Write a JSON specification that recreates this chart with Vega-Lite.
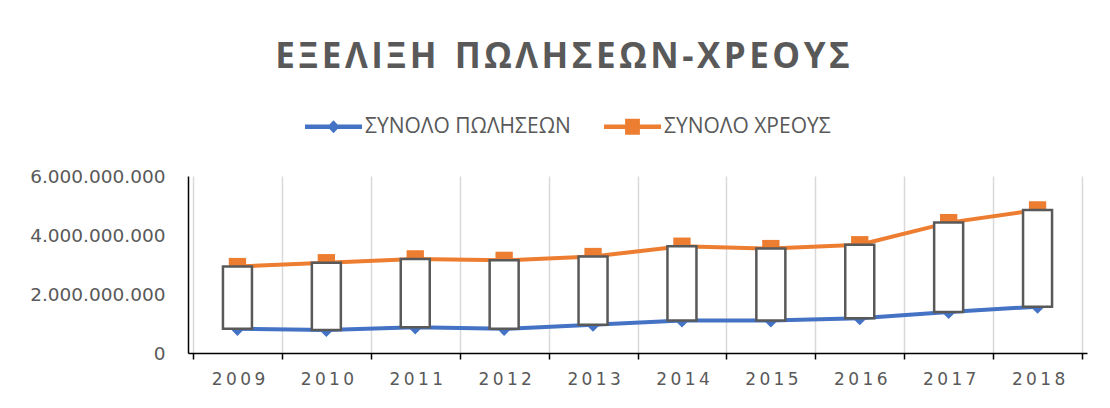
{
  "$schema": "https://vega.github.io/schema/vega-lite/v6.json",
  "width": 899,
  "height": 177,
  "autosize": {"type": "none"},
  "padding": {"left": 188, "top": 176, "right": 23, "bottom": 55},
  "background": "white",
  "config": {
    "locale": {"number": {"decimal": ",", "thousands": ".", "grouping": [3], "currency": ["", " €"]}},
    "view": {"stroke": null}
  },
  "title": {
    "text": "Ε\u200aΞ\u200aΕ\u200aΛ\u200aΙ\u200aΞ\u200aΗ\u00a0\u00a0Π\u200aΩ\u200aΛ\u200aΗ\u200aΣ\u200aΕ\u200aΩ\u200aΝ\u200a-\u200aΧ\u200aΡ\u200aΕ\u200aΟ\u200aΥ\u200aΣ",
    "font": "Open Sans",
    "fontSize": 35,
    "fontWeight": "bold",
    "color": "#595959",
    "anchor": "middle",
    "frame": "group",
    "dx": -75,
    "offset": 23
  },
  "data": {
    "values": [
      {"year": 2009, "sales": 820000000, "debt": 2930000000},
      {"year": 2010, "sales": 780000000, "debt": 3060000000},
      {"year": 2011, "sales": 870000000, "debt": 3190000000},
      {"year": 2012, "sales": 820000000, "debt": 3140000000},
      {"year": 2013, "sales": 960000000, "debt": 3270000000},
      {"year": 2014, "sales": 1100000000, "debt": 3620000000},
      {"year": 2015, "sales": 1100000000, "debt": 3540000000},
      {"year": 2016, "sales": 1180000000, "debt": 3670000000},
      {"year": 2017, "sales": 1390000000, "debt": 4420000000},
      {"year": 2018, "sales": 1570000000, "debt": 4850000000}
    ]
  },
  "layer": [
    {
      "mark": {"type": "line", "strokeWidth": 4, "color": "#4472C4"},
      "encoding": {
        "x": {
          "field": "year", "type": "quantitative",
          "scale": {"domain": [2008.5, 2018.5], "nice": false, "zero": false},
          "axis": {
            "title": null,
            "values": [2008.5, 2009.5, 2010.5, 2011.5, 2012.5, 2013.5, 2014.5, 2015.5, 2016.5, 2017.5, 2018.5],
            "labelExpr": "datum.value > 2018 ? '' : join(split(toString(datum.value + 0.5), ''), '\u2009')",
            "labelOffset": 45,
            "labelFlush": false,
            "labelOverlap": false,
            "labelFont": "DejaVu Sans",
            "labelFontSize": 17,
            "labelColor": "#595959",
            "labelPadding": 12,
            "domainColor": "#000000",
            "domainWidth": 1.5,
            "tickColor": "#000000",
            "tickWidth": 1.5,
            "tickSize": 6,
            "grid": true,
            "gridColor": "#d9d9d9",
            "gridWidth": 1.5
          }
        },
        "y": {
          "field": "sales", "type": "quantitative",
          "scale": {"domain": [0, 6000000000], "nice": false},
          "axis": {
            "title": null,
            "values": [0, 2000000000, 4000000000, 6000000000],
            "format": ",.0f",
            "labelFont": "DejaVu Sans",
            "labelFontSize": 18.5,
            "labelColor": "#595959",
            "labelPadding": 23,
            "ticks": false,
            "grid": false,
            "domainColor": "#000000",
            "domainWidth": 1.5
          }
        }
      }
    },
    {
      "mark": {"type": "line", "strokeWidth": 4, "color": "#ED7D31"},
      "encoding": {
        "x": {"field": "year", "type": "quantitative", "title": null},
        "y": {"field": "debt", "type": "quantitative", "title": null}
      }
    },
    {
      "transform": [{"fold": ["sales", "debt"], "as": ["series", "value"]}, {"filter": "false"}],
      "mark": {"type": "point", "filled": true, "opacity": 1},
      "encoding": {
        "x": {"field": "year", "type": "quantitative", "title": null},
        "y": {"field": "value", "type": "quantitative", "title": null},
        "color": {
          "field": "series", "type": "nominal",
          "scale": {"domain": ["sales", "debt"], "range": ["#4472C4", "#ED7D31"]},
          "legend": {
            "title": null,
            "orient": "none",
            "direction": "horizontal",
            "legendX": 117,
            "legendY": -78,
            "padding": 0,
            "symbolSize": 3249,
            "symbolStrokeWidth": 0,
            "symbolOpacity": 1,
            "labelFont": "Open Sans",
            "labelFontSize": 21,
            "labelColor": "#595959",
            "labelOffset": 3,
            "labelLimit": 400,
            "columnPadding": 33,
            "labelExpr": "datum.label == 'sales' ? 'ΣΥΝΟΛΟ ΠΩΛΗΣΕΩΝ' : 'ΣΥΝΟΛΟ ΧΡΕΟΥΣ'"
          }
        },
        "shape": {
          "field": "series", "type": "nominal",
          "scale": {
            "domain": ["sales", "debt"],
            "range": [
              "M-1,-0.08H-0.14L0,-0.23L0.14,-0.08H1V0.08H0.14L0,0.23L-0.14,0.08H-1Z",
              "M-1,-0.08H-0.26V-0.28H0.26V-0.08H1V0.08H0.26V0.28H-0.26V0.08H-1Z"
            ]
          },
          "legend": {
            "title": null,
            "orient": "none",
            "direction": "horizontal",
            "legendX": 117,
            "legendY": -78,
            "padding": 0,
            "symbolSize": 3249,
            "symbolStrokeWidth": 0,
            "symbolOpacity": 1,
            "labelFont": "Open Sans",
            "labelFontSize": 21,
            "labelColor": "#595959",
            "labelOffset": 3,
            "labelLimit": 400,
            "columnPadding": 33,
            "labelExpr": "datum.label == 'sales' ? 'ΣΥΝΟΛΟ ΠΩΛΗΣΕΩΝ' : 'ΣΥΝΟΛΟ ΧΡΕΟΥΣ'"
          }
        }
      }
    },
    {
      "mark": {"type": "point", "shape": "diamond", "filled": true, "color": "#4472C4", "size": 200, "opacity": 1},
      "encoding": {
        "x": {"field": "year", "type": "quantitative", "title": null},
        "y": {"field": "sales", "type": "quantitative", "title": null}
      }
    },
    {
      "mark": {"type": "point", "shape": "square", "filled": true, "color": "#ED7D31", "size": 300, "opacity": 1},
      "encoding": {
        "x": {"field": "year", "type": "quantitative", "title": null},
        "y": {"field": "debt", "type": "quantitative", "title": null}
      }
    },
    {
      "mark": {"type": "bar", "fill": "white", "stroke": "#595959", "strokeWidth": 2.5, "width": 29},
      "encoding": {
        "x": {"field": "year", "type": "quantitative", "title": null},
        "y": {"field": "debt", "type": "quantitative", "title": null},
        "y2": {"field": "sales"}
      }
    }
  ]
}
